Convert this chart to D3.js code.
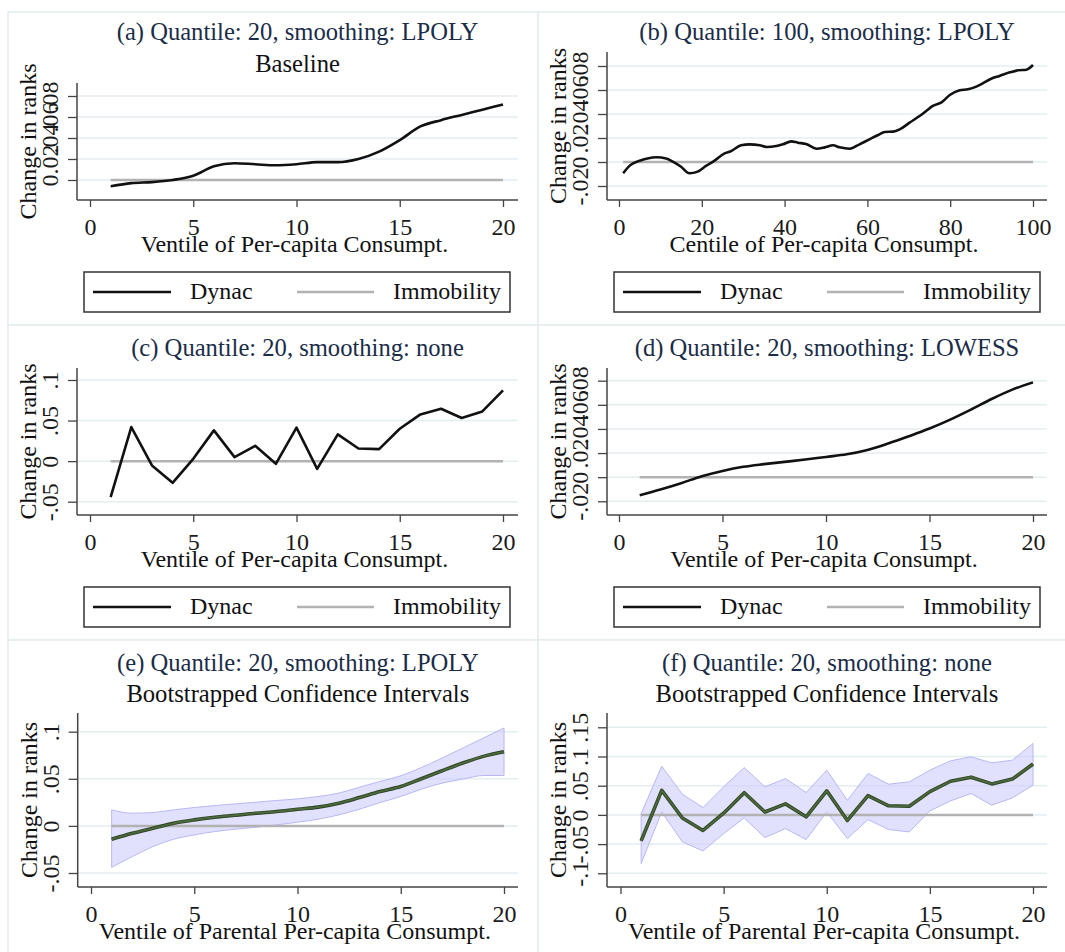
<!DOCTYPE html>
<html><head><meta charset="utf-8">
<script src="https://cdn.jsdelivr.net/npm/d3@7"></script>
<style>
html,body{margin:0;padding:0;background:#fff;}
svg{display:block;}
text{font-family:"Liberation Serif","Times New Roman",serif;}
</style></head>
<body>
<svg id="chart" width="1065" height="952"></svg>
<script>
// ---------------- DATA ----------------
const ventiles = [1,2,3,4,5,6,7,8,9,10,11,12,13,14,15,16,17,18,19,20];
const xTicks20 = [0,5,10,15,20];
const xTicks100 = [0,20,40,60,80,100];
const immobilityValue = 0;

// (a) LPOLY, ventiles
const dynacA = [-0.006,-0.003,-0.002,0.000,0.004,0.013,0.016,0.015,0.014,0.015,0.017,0.017,0.020,0.027,0.038,0.051,0.057,0.062,0.067,0.072];
const yTicksA = [0,0.02,0.04,0.06,0.08];
const yLabelsA = ["0",".02",".04",".06",".08"];

// (b) LPOLY, centiles
const centilesB = [1,2.6,5,9,11.4,13,15,17,19,21,23,25.5,27,29.5,31.5,34,35.6,38,39.6,41.6,43.2,45.2,47.7,49.7,51.7,53.3,55.7,58.1,60.5,62.6,64.2,66.2,67.8,70.2,72.6,74.2,75.8,77.9,79.9,82.3,84.3,86.3,87.9,89.9,91.9,94.4,96.4,98.4,100];
const dynacB = [-0.0094,-0.003,0.001,0.004,0.003,0.0003,-0.004,-0.0094,-0.008,-0.0033,0.001,0.0072,0.009,0.0139,0.0147,0.0139,0.0125,0.0133,0.0147,0.0172,0.0161,0.015,0.0111,0.0122,0.0139,0.0122,0.0111,0.0147,0.0189,0.0225,0.025,0.0253,0.0272,0.0328,0.0383,0.0425,0.0467,0.0497,0.0558,0.0597,0.0606,0.0628,0.0656,0.0694,0.0717,0.0747,0.0764,0.0769,0.0808];
const yTicksB = [-0.02,0,0.02,0.04,0.06,0.08];
const yLabelsB = ["-.02","0",".02",".04",".06",".08"];

// (c) and (f) no smoothing, ventiles
const dynacC = [-0.0444,0.042,-0.0053,-0.0267,0.0029,0.0379,0.0049,0.0189,-0.0033,0.0412,-0.0095,0.0329,0.0156,0.0148,0.0399,0.0576,0.0646,0.0531,0.0613,0.0872];
const yTicksC = [-0.05,0,0.05,0.1];
const yLabelsC = ["-.05","0",".05",".1"];

// (d) LOWESS
const dynacD = [-0.0149,-0.0102,-0.005,0.0008,0.0052,0.0086,0.0108,0.0127,0.0146,0.0168,0.019,0.0226,0.0279,0.0339,0.0403,0.0477,0.056,0.0648,0.0726,0.0786];
const yTicksD = [-0.02,0,0.02,0.04,0.06,0.08];
const yLabelsD = ["-.02","0",".02",".04",".06",".08"];

// (e) LPOLY with bootstrapped CI
const dynacE = [-0.0142,-0.0078,-0.0025,0.0028,0.0064,0.0092,0.0113,0.0135,0.0152,0.0177,0.0199,0.0241,0.0301,0.0365,0.0418,0.05,0.0585,0.0667,0.0738,0.0787];
const ciHighE = [0.017,0.0135,0.0142,0.017,0.0195,0.0216,0.0234,0.0252,0.027,0.0287,0.0312,0.0348,0.0411,0.0472,0.0532,0.062,0.072,0.0826,0.0933,0.1039];
const ciLowE = [-0.044,-0.0326,-0.022,-0.0142,-0.0096,-0.006,-0.0035,-0.0014,0.0011,0.0039,0.0071,0.0117,0.0177,0.0248,0.0312,0.039,0.0454,0.0496,0.0535,0.0535];
const yTicksE = [-0.05,0,0.05,0.1];
const yLabelsE = ["-.05","0",".05",".1"];

// (f) none with bootstrapped CI (point estimates = dynacC)
const ciHighF = [0.0023,0.0834,0.0354,0.0126,0.048,0.0811,0.048,0.0623,0.0383,0.0766,0.0251,0.0709,0.0526,0.0566,0.0766,0.0926,0.0994,0.0891,0.0937,0.1223];
const ciLowF = [-0.0834,0.0051,-0.0463,-0.0617,-0.032,-0.0051,-0.0389,-0.0234,-0.0423,0.0051,-0.0406,-0.008,-0.0251,-0.0291,0.0069,0.024,0.0366,0.0166,0.0291,0.0509];
const yTicksF = [-0.1,-0.05,0,0.05,0.1,0.15];
const yLabelsF = ["-.1","-.05","0",".05",".1",".15"];

const titles = ["(a) Quantile: 20, smoothing: LPOLY","(b) Quantile: 100, smoothing: LPOLY","(c) Quantile: 20, smoothing: none","(d) Quantile: 20, smoothing: LOWESS","(e) Quantile: 20, smoothing: LPOLY","(f) Quantile: 20, smoothing: none"];
const subtitles = ["Baseline","","","","Bootstrapped Confidence Intervals","Bootstrapped Confidence Intervals"];
const xTitles = ["Ventile of Per-capita Consumpt.","Centile of Per-capita Consumpt.","Ventile of Per-capita Consumpt.","Ventile of Per-capita Consumpt.","Ventile of Parental Per-capita Consumpt.","Ventile of Parental Per-capita Consumpt."];
const yTitle = "Change in ranks";
const legendLabels = ["Dynac","Immobility"];

// ---------------- LAYOUT ----------------
const FONT = 24;
const TFONT = 24.6;
const colL = {axisX:77, x0:90, x1:503, right:518};
const colR = {axisX:607, x0:619, x1:1033, right:1047};
const panels = [
  {col:colL, xDom:[0,20], xTicks:xTicks20, xs:ventiles, ys:dynacA, yTicks:yTicksA, yLabels:yLabelsA, yPix:[180,96], top:83, bottom:200, titleY:40, subY:72, legendY:272, curve:d3.curveMonotoneX},
  {col:colR, xDom:[0,100], xTicks:xTicks100, xs:centilesB, ys:dynacB, yTicks:yTicksB, yLabels:yLabelsB, yPix:[186,66], top:52, bottom:200, titleY:40, subY:72, legendY:272, curve:d3.curveMonotoneX},
  {col:colL, xDom:[0,20], xTicks:xTicks20, xs:ventiles, ys:dynacC, yTicks:yTicksC, yLabels:yLabelsC, yPix:[501.7,380], top:368, bottom:515, titleY:356, subY:0, legendY:587, curve:d3.curveLinear},
  {col:colR, xDom:[0,20], xTicks:xTicks20, xs:ventiles, ys:dynacD, yTicks:yTicksD, yLabels:yLabelsD, yPix:[501.3,380.7], top:368, bottom:515, titleY:356, subY:0, legendY:587, curve:d3.curveMonotoneX},
  {col:{axisX:77.7, x0:91, x1:504, right:518}, xDom:[0,20], xTicks:xTicks20, xs:ventiles, ys:dynacE, lo:ciLowE, hi:ciHighE, yTicks:yTicksE, yLabels:yLabelsE, yPix:[873,731.7], top:713, bottom:887, titleY:671, subY:702, legendY:null, curve:d3.curveMonotoneX},
  {col:{axisX:607, x0:620.5, x1:1033, right:1047}, xDom:[0,20], xTicks:xTicks20, xs:ventiles, ys:dynacC, lo:ciLowF, hi:ciHighF, yTicks:yTicksF, yLabels:yLabelsF, yPix:[873.3,727.3], top:713, bottom:887, titleY:671, subY:702, legendY:null, curve:d3.curveLinear}
];

const svg = d3.select("#chart");

// panel frames
const frameX = [8,538,1066];
const frameY = [12,325,640,953];
for (let r=0;r<3;r++) for (let c=0;c<2;c++) {
  svg.append("rect").attr("x",frameX[c]).attr("y",frameY[r])
    .attr("width",frameX[c+1]-frameX[c]).attr("height",frameY[r+1]-frameY[r])
    .attr("fill","#fff").attr("stroke","#e3ecee").attr("stroke-width",1.5);
}

panels.forEach((p,i)=>{
  const c = p.col;
  const g = svg.append("g");
  const x = d3.scaleLinear().domain(p.xDom).range([c.x0,c.x1]);
  const y = d3.scaleLinear().domain([p.yTicks[0], p.yTicks[p.yTicks.length-1]]).range(p.yPix);

  // gridlines
  g.selectAll("line.grid").data(p.yTicks).join("line")
    .attr("x1",c.axisX).attr("x2",c.right)
    .attr("y1",d=>y(d)).attr("y2",d=>y(d))
    .attr("stroke","#e4edf0").attr("stroke-width",1.5);

  const pts = p.xs.map((xv,k)=>({x:xv,y:p.ys[k]}));

  // CI band
  if (p.lo) {
    const area = d3.area().x((d,k)=>x(ventiles[k])).y0((d,k)=>y(p.lo[k])).y1((d,k)=>y(p.hi[k])).curve(p.curve);
    g.append("path").datum(ventiles).attr("d",area)
      .attr("fill","#cdcdfb").attr("fill-opacity",0.6)
      .attr("stroke","#b8b8f4").attr("stroke-width",1);
  }

  // immobility line
  g.append("line")
    .attr("x1",x(ventiles[0])).attr("x2",x(p.xDom[1]))
    .attr("y1",y(immobilityValue)).attr("y2",y(immobilityValue))
    .attr("stroke","#b2b2b2").attr("stroke-width",2.5);

  // dynac line
  const line = d3.line().x(d=>x(d.x)).y(d=>y(d.y)).curve(p.curve);
  if (p.lo) {
    g.append("path").datum(pts).attr("d",line).attr("fill","none")
      .attr("stroke","#2f4224").attr("stroke-width",3.6).attr("stroke-linejoin","round");
    g.append("path").datum(pts).attr("d",line).attr("fill","none")
      .attr("stroke","#4b6a3c").attr("stroke-width",1.8).attr("stroke-linejoin","round");
  } else {
    g.append("path").datum(pts).attr("d",line).attr("fill","none")
      .attr("stroke","#111").attr("stroke-width",2.6).attr("stroke-linejoin","round");
  }

  // y axis
  const ya = g.append("g").attr("transform",`translate(${c.axisX},0)`)
    .call(d3.axisLeft(y).tickValues(p.yTicks).tickSize(9).tickFormat((d,k)=>p.yLabels[k]));
  ya.select(".domain").remove();
  ya.selectAll(".tick line").attr("stroke","#444").attr("stroke-width",1.3);
  ya.selectAll(".tick text").attr("x",null).attr("dy",null)
    .attr("transform","translate(-19,0) rotate(-90)").attr("text-anchor","middle")
    .style("font-family","'Liberation Serif',serif").style("font-size",FONT+"px").attr("fill","#1a1a1a");
  g.append("line").attr("x1",c.axisX).attr("x2",c.axisX).attr("y1",p.top).attr("y2",p.bottom)
    .attr("stroke","#444").attr("stroke-width",1.5);

  // x axis
  const xa = g.append("g").attr("transform",`translate(0,${p.bottom})`)
    .call(d3.axisBottom(x).tickValues(p.xTicks).tickSize(7).tickFormat(d3.format("d")));
  xa.select(".domain").remove();
  xa.selectAll(".tick line").attr("stroke","#444").attr("stroke-width",1.3);
  xa.selectAll(".tick text").attr("y",35).attr("dy",null)
    .style("font-family","'Liberation Serif',serif").style("font-size",FONT+"px").attr("fill","#1a1a1a");
  g.append("line").attr("x1",c.axisX).attr("x2",c.right).attr("y1",p.bottom).attr("y2",p.bottom)
    .attr("stroke","#444").attr("stroke-width",1.5);

  // titles
  const cx = (c.axisX + c.right)/2;
  g.append("text").attr("x",cx).attr("y",p.titleY).attr("text-anchor","middle")
    .style("font-size",TFONT+"px").attr("fill","#1b2c48").text(titles[i]);
  if (subtitles[i]) g.append("text").attr("x",cx).attr("y",p.subY).attr("text-anchor","middle")
    .style("font-size",TFONT+"px").attr("fill","#111").text(subtitles[i]);

  // axis titles
  g.append("text").attr("x",cx-3).attr("y",p.bottom+52).attr("text-anchor","middle")
    .style("font-size",FONT+"px").attr("fill","#111").text(xTitles[i]);
  const ymid = (p.top + p.bottom)/2;
  g.append("text").attr("transform",`translate(${c.axisX-41},${ymid}) rotate(-90)`).attr("text-anchor","middle")
    .style("font-size",FONT+"px").attr("fill","#111").text(yTitle);

  // legend
  if (p.legendY !== null) {
    const lx = c.axisX + 7, lw = 426, lh = 40, ly = p.legendY;
    g.append("rect").attr("x",lx).attr("y",ly).attr("width",lw).attr("height",lh)
      .attr("fill","#fff").attr("stroke","#333").attr("stroke-width",1.5);
    const my = ly + 20;
    g.append("line").attr("x1",lx+9).attr("x2",lx+87).attr("y1",my).attr("y2",my)
      .attr("stroke","#111").attr("stroke-width",2.6);
    g.append("text").attr("x",lx+106).attr("y",my+7).style("font-size",FONT+"px").attr("fill","#111").text(legendLabels[0]);
    g.append("line").attr("x1",lx+213).attr("x2",lx+290).attr("y1",my).attr("y2",my)
      .attr("stroke","#b2b2b2").attr("stroke-width",2.5);
    g.append("text").attr("x",lx+309).attr("y",my+7).style("font-size",FONT+"px").attr("fill","#111").text(legendLabels[1]);
  }
});
</script>
</body></html>
